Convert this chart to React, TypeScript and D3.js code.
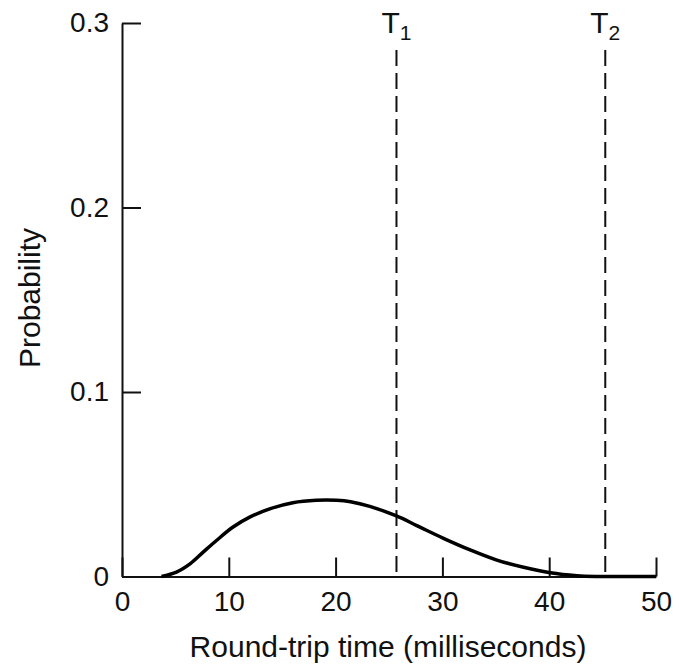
import React, { useEffect, useRef } from "react";
import * as d3 from "d3";

// round-trip time (ms) and probability
const rttMs = [3.7, 5.1, 6.4, 7.6, 8.9, 10.4, 12, 13.9, 16, 18.2, 20.1, 21.4, 23.2, 25.7, 27.6, 30.1, 32.6, 35.1, 37.6, 40.1, 42.6, 44.4, 47, 50];
const probability = [0, 0.0024, 0.0070, 0.0132, 0.0198, 0.0268, 0.0323, 0.0368, 0.04, 0.0413, 0.0413, 0.0405, 0.038, 0.0328, 0.0276, 0.0207, 0.0144, 0.0089, 0.005, 0.002, 0.0004, 0, 0, 0];

const xTicks = [0, 10, 20, 30, 40, 50];
const yTicks = [0, 0.1, 0.2, 0.3];

// timeout thresholds
const thresholds = [
  { name: "T", sub: "1", value: 25.7 },
  { name: "T", sub: "2", value: 45.25 },
];

const App = () => {
  const svgRef = useRef<SVGSVGElement>(null);

  useEffect(() => {
    const w = 679;
    const h = 666;
    const margin = { top: 23, right: 23, bottom: 89.5, left: 122 };
    const font = "'Liberation Sans', Arial, sans-serif";

    const svg = d3.select(svgRef.current).attr("width", w).attr("height", h);
    svg.selectAll("*").remove();

    const x = d3.scaleLinear().domain([0, 50]).range([margin.left, w - margin.right]);
    const y = d3.scaleLinear().domain([0, 0.3]).range([h - margin.bottom, margin.top]);

    // axes, ticks pointing inward
    const xAxis = d3
      .axisBottom(x)
      .tickValues(xTicks)
      .tickSizeInner(-19)
      .tickSizeOuter(0)
      .tickPadding(15)
      .tickFormat((d) => d3.format("d")(d as number));

    const yAxis = d3
      .axisLeft(y)
      .tickValues(yTicks)
      .tickSizeInner(-19)
      .tickSizeOuter(0)
      .tickPadding(13)
      .tickFormat((d) => ((d as number) === 0 ? "0" : d3.format(".1f")(d as number)));

    const gx = svg.append("g").attr("transform", `translate(0, ${y(0)})`).call(xAxis);
    const gy = svg.append("g").attr("transform", `translate(${x(0)}, 0)`).call(yAxis);

    [gx, gy].forEach((g) => {
      g.select(".domain").attr("stroke", "#111").attr("stroke-width", 2);
      g.selectAll(".tick line").attr("stroke", "#111").attr("stroke-width", 2);
      g.selectAll(".tick text")
        .attr("fill", "#111")
        .style("font-family", font)
        .style("font-size", "28px");
    });

    // dashed threshold lines
    thresholds.forEach((t) => {
      svg
        .append("line")
        .attr("x1", x(t.value))
        .attr("x2", x(t.value))
        .attr("y1", 50)
        .attr("y2", y(0))
        .attr("stroke", "#111")
        .attr("stroke-width", 2)
        .attr("stroke-dasharray", "16,7");

      const label = svg
        .append("text")
        .attr("x", x(t.value))
        .attr("y", 33)
        .attr("text-anchor", "middle")
        .attr("fill", "#111")
        .style("font-family", font)
        .style("font-size", "30px");
      label.append("tspan").text(t.name);
      label.append("tspan").attr("dy", 7).style("font-size", "21px").text(t.sub);
    });

    // probability curve
    const line = d3
      .line<number>()
      .x((d, i) => x(rttMs[i]))
      .y((d) => y(d))
      .curve(d3.curveCatmullRom.alpha(0.5));

    svg
      .append("path")
      .datum(probability)
      .attr("d", line)
      .attr("fill", "none")
      .attr("stroke", "#000")
      .attr("stroke-width", 3.5)
      .attr("stroke-linejoin", "round");

    // axis titles
    svg
      .append("text")
      .attr("x", 388)
      .attr("y", 657)
      .attr("text-anchor", "middle")
      .attr("fill", "#111")
      .style("font-family", font)
      .style("font-size", "30px")
      .text("Round-trip time (milliseconds)");

    svg
      .append("text")
      .attr("transform", `translate(40, 298) rotate(-90)`)
      .attr("text-anchor", "middle")
      .attr("fill", "#111")
      .style("font-family", font)
      .style("font-size", "30px")
      .text("Probability");
  }, []);

  return (
    <svg ref={svgRef} style={{ position: "absolute", left: 0, top: 0, background: "white" }}></svg>
  );
};

export default App;
